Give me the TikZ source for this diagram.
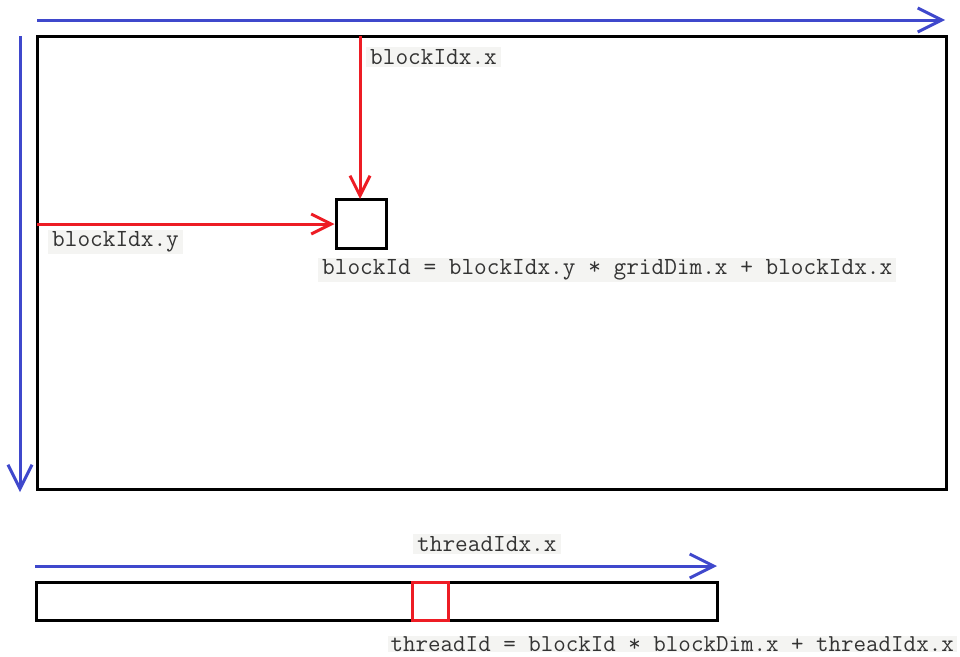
\documentclass[tikz,border=0pt]{standalone}
\usepackage{fontspec}
\usetikzlibrary{arrows.meta}
\definecolor{pblue}{HTML}{3F48CC}
\definecolor{pred}{HTML}{ED1C24}
\definecolor{labbg}{HTML}{F4F4F2}
\tikzset{
  box/.style={draw=black, line width=3pt, inner sep=0pt, fill=white},
  redbox/.style={draw=pred, line width=3pt, inner sep=0pt},
  bluearr/.style={draw=pblue, line width=3pt, -{Straight Barb[length=24pt,width=24pt,line width=3pt]}},
  redarr/.style={draw=pred, line width=3pt, -{Straight Barb[length=20pt,width=20pt,line width=3pt]}},
  lab/.style={fill=labbg, font=\ttfamily\fontsize{24.6}{27}\selectfont, inner xsep=4pt, inner ysep=2pt, text=black!80, anchor=west}
}
\begin{document}
\begin{tikzpicture}[x=1pt,y=-1pt]
\useasboundingbox (0,0) rectangle (960,656);
% grid
\node[box, minimum width=909pt, minimum height=453pt] (grid) at (491.5,262.5) {};
\node[box, minimum width=50pt, minimum height=49pt] (block) at (361,223.5) {};
% blue axes
\coordinate (tl) at (37,20);
\coordinate (tr) at (945,20);
\coordinate (lt) at (20,36);
\coordinate (lb) at (20,492);
\draw[bluearr] (tl) -- (tr);
\draw[bluearr] (lt) -- (lb);
% red arrows
\coordinate (rx) at (360,36);
\coordinate (ry) at (37,224);
\draw[redarr] (rx) -- (360,199);
\draw[redarr] (ry) -- (block.west |- ry);
% labels
\node[lab] (lbx) at (366,57) {blockIdx.x};
\node[lab] (lby) at (48,242) {blockIdx.y};
\node[lab] (lbid) at (318,270) {blockId = blockIdx.y * gridDim.x + blockIdx.x};
% thread row
\node[box, minimum width=681pt, minimum height=38pt] (row) at (376.5,601) {};
\node[redbox, minimum width=36pt, minimum height=38pt] (thr) at (430,601) {};
\coordinate (al) at (35,566);
\coordinate (ar) at (717,566);
\draw[bluearr] (al) -- (ar);
\node[lab] (ltx) at (413,544) {threadIdx.x};
\node[lab, anchor=east, inner xsep=3pt, inner ysep=0.5pt, font=\ttfamily\fontsize{24.3}{26}\selectfont] (ltid) at (957,644) {threadId = blockId * blockDim.x + threadIdx.x};
\end{tikzpicture}
\end{document}
